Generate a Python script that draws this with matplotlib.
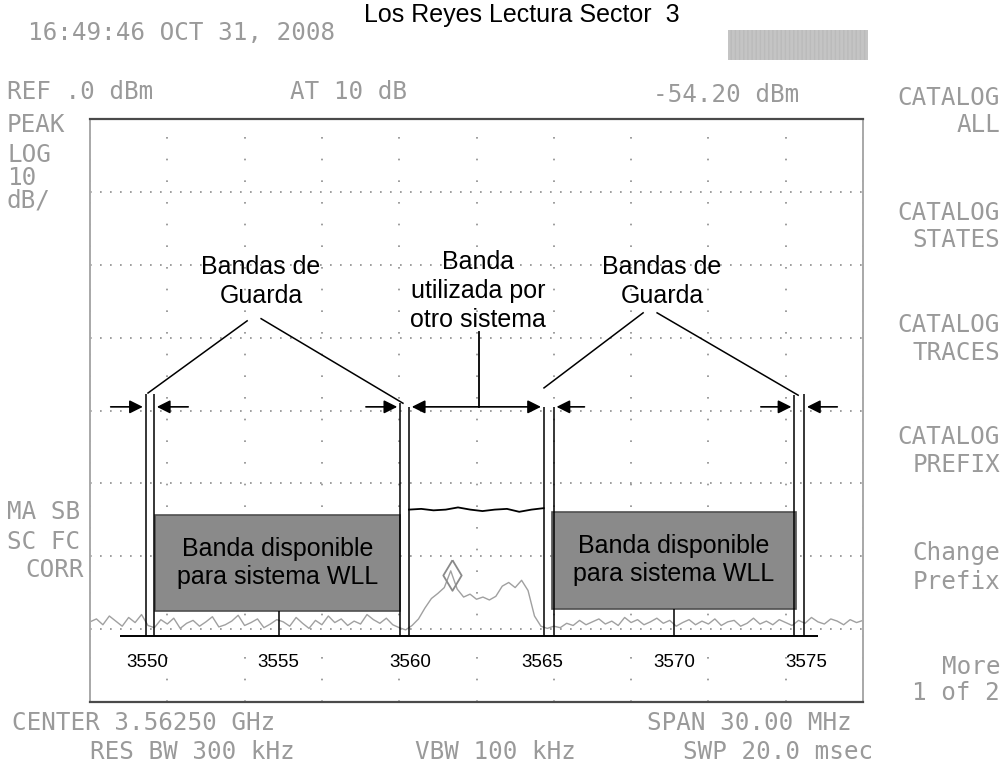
import numpy as np
import matplotlib.pyplot as plt
from matplotlib.patches import Rectangle
from matplotlib.path import Path

# analyzer settings
center_mhz = 3562.5
span_mhz = 30.0
ref_dbm = 0.0
db_div = 10
n_div_y = 8

# trace A, one point every 0.25 MHz over the span
trace_dbm = [
    -69.0, -68.6, -69.4, -68.2, -68.9, -69.6, -68.4, -69.1, -68.0, -69.5,
    -69.8, -68.7, -69.3, -68.5, -69.9, -69.2, -68.8, -69.6, -69.0, -68.3,
    -69.7, -69.4, -68.9, -68.1, -69.5, -69.1, -68.6, -69.8, -69.3, -68.7,
    -69.0, -69.6, -68.4, -69.2, -69.9, -68.8, -69.4, -68.2, -69.1, -68.6,
    -69.5, -68.9, -69.3, -68.0, -68.7, -69.2, -68.5, -69.4, -69.8, -70.1,
    # 3560 - 3565 MHz, other system
    -69.5, -68.6, -67.1, -65.8, -65.1, -64.3, -62.0, -64.5, -65.6, -65.2,
    -65.9, -65.6, -66.0, -65.5, -64.1, -63.6, -64.3, -63.3, -64.7, -68.2,
    -69.6,
    -69.9, -69.6, -69.8, -69.2, -69.5, -68.8, -69.4, -69.0, -68.6, -69.3,
    -68.9, -69.5, -68.4, -69.1, -68.7, -69.4, -69.0, -68.5, -69.2, -68.8,
    -69.6, -69.1, -68.7, -69.4, -68.9, -69.3, -68.6, -69.5, -69.0, -68.8,
    -69.6, -69.2, -68.5, -69.3, -68.9, -69.4, -68.7, -69.1, -69.5, -68.8,
    -69.2, -68.4, -69.0, -69.3, -68.6, -68.9, -69.4, -68.7, -69.1, -68.8,
]
marker_mhz = 3561.55
marker_dbm = -62.6

# channel level of the other system
level_dbm = [-53.6, -53.5, -53.7, -53.6, -53.3, -53.6, -53.8, -53.6, -53.5, -53.9, -53.6, -53.4]

# annotation layer (hand drawn scale)
ann_lim = (3547.84, 3577.16)
tick_mhz = [3550, 3555, 3560, 3565, 3570, 3575]
guard_lo = [3549.95, 3559.6, 3565.05, 3574.55]
guard_hi = [3550.27, 3559.94, 3565.43, 3574.93]
wll_bands = [(3550.31, 3559.6), (3565.37, 3574.62)]
wll_top = [-54.3, -53.9]
wll_bot = [-67.5, -67.2]
base_dbm = -70.9
arrow_dbm = -39.5

fig = plt.figure(figsize=(10.05, 7.72), dpi=100)
ax = fig.add_axes([90 / 1005, 1 - 702 / 772, 773 / 1005, 583 / 772])

f0 = center_mhz - span_mhz / 2
f1 = center_mhz + span_mhz / 2
freq = np.linspace(f0, f1, len(trace_dbm))
ax.plot(freq, trace_dbm, color='#a0a0a0', lw=1.0)
diamond = Path([(0, 1), (0.6, 0), (0, -1), (-0.6, 0), (0, 1)])
ax.plot(marker_mhz, marker_dbm, marker=diamond, ms=22, mfc='none', mec='#8a8a8a', mew=1.3)

ax.set_xlim(f0, f1)
ax.set_ylim(ref_dbm - n_div_y * db_div, ref_dbm)
ax.set_xticks(np.linspace(f0, f1, 11))
ax.set_yticks(np.arange(ref_dbm - n_div_y * db_div, ref_dbm + 1, db_div))
ax.tick_params(length=0, labelbottom=False, labelleft=False)
ax.grid(axis='y', color='#8c8c8c', ls=(0, (1, 5)), lw=1.2)
ax.grid(axis='x', color='#8c8c8c', ls=(0, (1, 12)), lw=1.2)
for s in ['top', 'bottom']:
    ax.spines[s].set_color('#4a4a4a')
    ax.spines[s].set_linewidth(1.6)
for s in ['left', 'right']:
    ax.spines[s].set_color('#a8a8a8')
    ax.spines[s].set_linewidth(1.4)

# annotation overlay
ann = ax.twiny()
ann.set_xlim(*ann_lim)
ann.set_xticks([])
for s in ann.spines.values():
    s.set_visible(False)
af = dict(family='Liberation Sans', fontsize=18, color='black')

for (a, b), t, bt in zip(wll_bands, wll_top, wll_bot):
    ann.add_patch(Rectangle((a, bt), b - a, t - bt, fc='#8a8a8a', ec='#505050', lw=1.2))
    ann.text((a + b) / 2, (t + bt) / 2, 'Banda disponible\npara sistema WLL',
             ha='center', va='center', linespacing=1.2, **af)

tops = [-37.8, -37.7, -39.0, -39.5, -39.5, -39.5, -37.9, -37.7]
edges = [e for pair in zip(guard_lo, guard_hi) for e in pair]
ann.vlines(edges, base_dbm, tops, color='black', lw=1.1)
ann.hlines(base_dbm, 3548.98, 3575.46, color='black', lw=1.4)
ann.vlines([tick_mhz[1], tick_mhz[4]], base_dbm, [wll_bot[0], wll_bot[1]], color='black', lw=1.1)
for t in tick_mhz:
    ann.text(t, -74.6, str(t), ha='center', va='center', family='Liberation Sans',
             fontsize=13.5, color='black')

# other system level
ann.plot(np.linspace(guard_hi[1], guard_lo[2], len(level_dbm)), level_dbm, color='black', lw=1.3)

ap = dict(arrowstyle='-|>', color='black', lw=1.2, mutation_scale=20)
tails = [3548.52, 3551.67, 3558.2, 3566.7, 3573.18, 3576.29]
tips = [guard_lo[0], guard_hi[0], guard_lo[1], guard_hi[2], guard_lo[3], guard_hi[3]]
for tl, tp in zip(tails, tips):
    ann.annotate('', xy=(tp, arrow_dbm), xytext=(tl, arrow_dbm), arrowprops=ap)
ann.annotate('', xy=(guard_hi[1], arrow_dbm), xytext=(guard_lo[2], arrow_dbm),
             arrowprops=dict(arrowstyle='<|-|>', color='black', lw=1.2, mutation_scale=20))

ann.text(3554.33, -22.3, 'Bandas de\nGuarda', ha='center', va='center', linespacing=1.25, **af)
ann.text(3569.54, -22.3, 'Bandas de\nGuarda', ha='center', va='center', linespacing=1.25, **af)
ann.text(3562.56, -23.6, 'Banda\nutilizada por\notro sistema', ha='center', va='center',
         linespacing=1.27, **af)
ann.plot([3553.8, 3550.04], [-27.7, -37.6], color='black', lw=1.1)
ann.plot([3554.33, 3559.71], [-27.4, -39.0], color='black', lw=1.1)
ann.plot([3568.82, 3565.06], [-26.6, -36.9], color='black', lw=1.1)
ann.plot([3569.35, 3574.7], [-26.6, -37.9], color='black', lw=1.1)
ann.plot([3562.6, 3562.6], [-29.2, arrow_dbm], color='black', lw=1.3)
ann.set_ylim(ref_dbm - n_div_y * db_div, ref_dbm)

# instrument screen text
mono = dict(family='DejaVu Sans Mono', fontsize=17.5, color='#9a9a9a')
def scr(x, y, s, ha='left'):
    fig.text(x / 1005, 1 - y / 772, s, ha=ha, va='center', **mono)

scr(28, 33, '16:49:46 OCT 31, 2008')
scr(7, 92, 'REF .0 dBm')
scr(290, 92, 'AT 10 dB')
scr(653, 95, '-54.20 dBm')
scr(1000, 98, 'CATALOG', 'right')
scr(1000, 125, 'ALL', 'right')
scr(1000, 213, 'CATALOG', 'right')
scr(1000, 240, 'STATES', 'right')
scr(1000, 325, 'CATALOG', 'right')
scr(1000, 353, 'TRACES', 'right')
scr(1000, 437, 'CATALOG', 'right')
scr(1000, 465, 'PREFIX', 'right')
scr(1000, 553, 'Change', 'right')
scr(1000, 582, 'Prefix', 'right')
scr(1000, 667, 'More', 'right')
scr(1000, 693, '1 of 2', 'right')
scr(7, 125, 'PEAK')
scr(7, 155, 'LOG')
scr(7, 178, '10')
scr(7, 200, 'dB/')
scr(7, 512, 'MA SB')
scr(7, 542, 'SC FC')
scr(25, 570, 'CORR')
scr(12, 723, 'CENTER 3.56250 GHz')
scr(90, 752, 'RES BW 300 kHz')
scr(415, 752, 'VBW 100 kHz')
scr(647, 723, 'SPAN 30.00 MHz')
scr(683, 752, 'SWP 20.0 msec')

fig.add_artist(Rectangle((728 / 1005, 1 - 60 / 772), 140 / 1005, 30 / 772,
                         transform=fig.transFigure, fc='#c4c4c4', ec='#bbbbbb',
                         hatch='||||', lw=0))

fig.text(522 / 1005, 1 - 15 / 772, 'Los Reyes Lectura Sector  3', ha='center', va='center',
         family='Liberation Sans', fontsize=18, color='black')

fig.savefig('out.png', dpi=100)
